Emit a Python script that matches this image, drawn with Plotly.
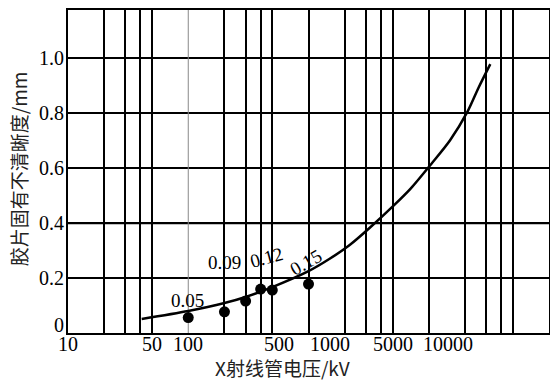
import numpy as np
import plotly.graph_objects as go

# Curve (X-ray tube voltage kV vs inherent film unsharpness mm)
curve_kv = [41, 100, 200, 300, 500, 1000, 1500, 2200, 3200, 5100, 7100, 10500,
            15000, 21000, 26000, 32500]
curve_mm = [0.051, 0.08, 0.109, 0.131, 0.167, 0.225, 0.27, 0.32, 0.381, 0.463,
            0.526, 0.615, 0.70, 0.805, 0.893, 0.978]

# Measured points
point_kv = [100, 200, 300, 400, 500, 1000]
point_mm = [0.056, 0.077, 0.116, 0.16, 0.156, 0.178]

# Point labels
label_text = ["0.05", "0.09", "0.12", "0.15"]
label_kv = [98, 200, 447, 944]
label_mm = [0.12, 0.258, 0.273, 0.258]
label_angle = [0, 0, -15, -30]

# X-axis tick labels (text and where each label sits along the axis)
x_ticktext = ["10", "50", "100", "500", "1000", "5000", "10000"]
x_tickpos = [10, 50, 100, 563, 1520, 5000, 14400]

# Y-axis tick labels (text and where each label sits)
y_ticktext = ["0", "0.2", "0.4", "0.6", "0.8", "1.0"]
y_tickpos = [0.03, 0.2, 0.4, 0.6, 0.8, 1.0]

# Grid
x_grid = [20, 30, 40, 50, 200, 300, 400, 500, 1000, 2000, 3000, 4000, 5000,
          10000, 20000, 30000, 40000, 50000]
x_grid_light = [100]
y_grid = [0.2, 0.4, 0.6, 0.8, 1.0]
y_max = 1.175

serif = "Liberation Serif"
cjk = "Noto Sans CJK SC"

fig = go.Figure()

for v in x_grid_light:
    fig.add_trace(go.Scatter(x=[v, v], y=[0, y_max], mode="lines",
                             line=dict(color="#888888", width=1),
                             hoverinfo="skip", showlegend=False))

fig.add_trace(go.Scatter(x=curve_kv, y=curve_mm, mode="lines",
                         line=dict(color="black", width=2.5, shape="spline", smoothing=0.8),
                         hoverinfo="skip", showlegend=False))
fig.add_trace(go.Scatter(x=point_kv, y=point_mm, mode="markers",
                         marker=dict(color="black", size=11),
                         hoverinfo="skip", showlegend=False))

for t, kv, mm, ang in zip(label_text, label_kv, label_mm, label_angle):
    fig.add_annotation(x=np.log10(kv), y=mm, xref="x", yref="y", text=t,
                       showarrow=False, textangle=ang, xanchor="center", yanchor="middle",
                       font=dict(family=serif, size=19, color="black"))

for t, kv in zip(x_ticktext, x_tickpos):
    fig.add_annotation(x=np.log10(kv), y=-0.034, xref="x", yref="paper", text=t,
                       showarrow=False, xanchor="center", yanchor="middle",
                       font=dict(family=serif, size=20, color="black"))

for t, v in zip(y_ticktext, y_tickpos):
    fig.add_annotation(x=0, y=v, xref="paper", yref="y", text=t, xshift=-2,
                       showarrow=False, xanchor="right", yanchor="middle",
                       font=dict(family=serif, size=20, color="black"))

# thicker 0.4 line
fig.add_shape(type="line", xref="paper", yref="y", x0=0, x1=1, y0=0.4, y1=0.4,
              line=dict(color="black", width=2.2), layer="below")

fig.add_annotation(x=-0.104, y=0.51, xref="paper", yref="paper",
                   xanchor="center", yanchor="middle",
                   text="胶片固有不清晰度/mm", textangle=-90, showarrow=False,
                   font=dict(family=cjk, size=19, color="#222"))
fig.add_annotation(x=0.445, y=-0.108, xref="paper", yref="paper",
                   xanchor="center", yanchor="middle",
                   text="X射线管电压/kV", showarrow=False,
                   font=dict(family=cjk, size=19, color="#222"))

fig.update_layout(
    width=550, height=386,
    margin=dict(l=68, r=1, t=10, b=53),
    paper_bgcolor="white", plot_bgcolor="white",
    hovermode=False,
    xaxis=dict(type="log", range=[1, 5.0], automargin=False,
               showticklabels=False, showgrid=False, ticks="", zeroline=False,
               showline=True, mirror=True, linecolor="black", linewidth=1.5,
               minor=dict(tickmode="array", tickvals=x_grid, showgrid=True,
                          gridcolor="black", gridwidth=1.5, ticks="")),
    yaxis=dict(range=[0, y_max], automargin=False, tickmode="array", tickvals=y_grid,
               showticklabels=False, showgrid=True, gridcolor="black", gridwidth=1.5,
               ticks="", zeroline=False,
               showline=True, mirror=True, linecolor="black", linewidth=1.5),
)

fig.write_html("out.html", post_script="document.body.style.margin='0';",
               config={"displayModeBar": False})
